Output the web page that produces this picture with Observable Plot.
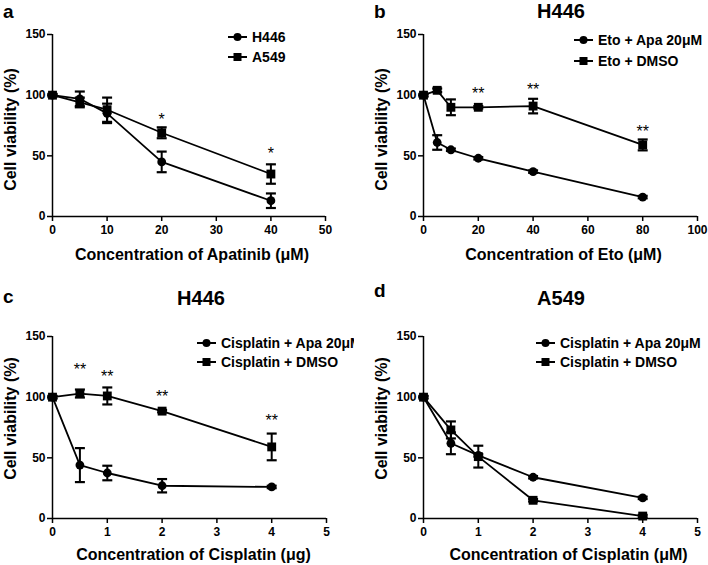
<!DOCTYPE html>
<html>
<head>
<meta charset="utf-8">
<script src="https://cdn.jsdelivr.net/npm/d3@7"></script>
<script src="https://cdn.jsdelivr.net/npm/@observablehq/plot@0.6"></script>
<style>
body{margin:0;background:#fff;font-family:"Liberation Sans",Arial,sans-serif;}
#fig{position:relative;width:708px;height:565px;overflow:hidden;}
.panel{position:absolute;}
.txt{position:absolute;font-weight:bold;line-height:0.8;white-space:nowrap;color:#000;}
.leg{position:absolute;display:flex;align-items:center;height:20px;font-size:14px;font-weight:bold;white-space:nowrap;}
.leg svg{margin-right:5px;}
</style>
</head>
<body>
<div id="fig"></div>
<script>
// panel a : apatinib alone
const xA = [0, 5, 10, 20, 40]
const aH446 = [100, 97, 85, 45, 13]
const aH446Err = [1, 6, 8, 8.5, 6]
const aA549 = [100, 94, 88, 69, 35]
const aA549Err = [1, 4, 10, 4.5, 8]
const aStarX = [20, 40]
const aStarY = [83, 54.5]
const aStarTxt = ['*', '*']

// panel b : H446, etoposide
const xB = [0, 5, 10, 20, 40, 80]
const bApa = [100, 61, 55, 48, 37, 16]
const bApaErr = [1, 6, 1, 1, 1, 1]
const bDmso = [100, 104, 90, 90, 91, 59]
const bDmsoErr = [1, 1.5, 6.5, 1, 6, 4.5]
const bStarX = [20, 40, 80]
const bStarY = [104.6, 107.3, 73.2]
const bStarTxt = ['**', '**', '**']

// panel c : H446, cisplatin
const xC = [0, 0.5, 1, 2, 4]
const cApa = [100, 44, 37.5, 27, 26]
const cApaErr = [1, 14, 6, 5.5, 1]
const cDmso = [100, 103, 101, 88.5, 59]
const cDmsoErr = [1, 3.3, 7, 1, 11]
const cStarX = [0.5, 1, 2, 4]
const cStarY = [126, 120, 103.4, 83.6]
const cStarTxt = ['**', '**', '**', '**']

// panel d : A549, cisplatin
const xD = [0, 0.5, 1, 2, 4]
const dApa = [100, 62, 52, 34, 17]
const dApaErr = [1, 9, 1, 1, 1]
const dDmso = [100, 73, 51, 15, 2]
const dDmsoErr = [1, 7, 9, 1, 1]

const yTicks = [0, 50, 100, 150]
const fig = d3.select('#fig')

// horizontal cap for error bars
const cap = {draw(ctx) { ctx.moveTo(-5, 0); ctx.lineTo(5, 0) }}

const rows = (xs, ys, err) => xs.map((x, i) => ({x, y: ys[i], lo: ys[i] - err[i], hi: ys[i] + err[i]}))

function seriesMarks(data, symbol) {
  return [
    Plot.line(data, {x: 'x', y: 'y', stroke: 'black', strokeWidth: 1.8}),
    Plot.ruleX(data, {x: 'x', y1: 'lo', y2: 'hi', stroke: 'black', strokeWidth: 2}),
    Plot.dot(data, {x: 'x', y: 'lo', symbol: cap, fill: 'none', stroke: 'black', strokeWidth: 2.2}),
    Plot.dot(data, {x: 'x', y: 'hi', symbol: cap, fill: 'none', stroke: 'black', strokeWidth: 2.2}),
    Plot.dot(data, {x: 'x', y: 'y', symbol, fill: 'black', stroke: 'none', r: symbol == 'square' ? 5 : 4.4}),
  ]
}

function panel(p) {
  const stars = p.starX.map((x, i) => ({x, y: p.starY[i], t: p.starTxt[i]}))
  let chart = Plot.plot({
    width: 354, height: p.height,
    marginLeft: p.ml, marginRight: p.mr, marginTop: p.mt, marginBottom: p.mb,
    x: {domain: p.xDomain, ticks: p.xTicks, label: null},
    y: {domain: [0, 150], ticks: yTicks, label: null},
    style: {fontFamily: '"Liberation Sans", Arial, sans-serif', fontSize: '12px', fontWeight: 'bold', color: 'black', background: 'white', overflow: 'visible'},
    marks: [
      Plot.axisX({ticks: p.xTicks, tickFormat: d => String(d), tickSize: 5, tickPadding: 4, strokeWidth: 1.5, fontSize: 12, fontWeight: 'bold', label: null}),
      Plot.axisY({ticks: yTicks, tickFormat: d => String(d), tickSize: 5, tickPadding: 2, strokeWidth: 1.5, fontSize: 12, fontWeight: 'bold', label: null}),
      Plot.ruleX([p.xDomain[0]], {stroke: 'black', strokeWidth: 1.5}),
      Plot.ruleY([0], {stroke: 'black', strokeWidth: 1.5}),
      ...seriesMarks(rows(p.xs, p.s1, p.s1Err), 'circle'),
      ...seriesMarks(rows(p.xs, p.s2, p.s2Err), 'square'),
      Plot.text(stars, {x: 'x', y: 'y', text: 't', fill: 'black', fontSize: 16, fontWeight: 'normal', dy: 4}),
      Plot.text([p.xTitle], {text: d => d, frameAnchor: 'bottom', textAnchor: 'middle', lineAnchor: 'middle', dy: p.xTitleDy, dx: p.xTitleDx, fontSize: 16, fontWeight: 'bold'}),
      Plot.text(['Cell viability (%)'], {text: d => d, frameAnchor: 'left', textAnchor: 'middle', lineAnchor: 'middle', rotate: -90, dx: -42, dy: p.yTitleDy, fontSize: 16, fontWeight: 'bold'}),
    ],
  })
  fig.append('div').attr('class', 'panel').style('left', p.left + 'px').style('top', p.top + 'px').append(() => chart)

  // legend
  p.legend.forEach((lab, i) => {
    const row = fig.append('div').attr('class', 'leg')
      .style('left', p.legX + 'px').style('top', (p.legY[i] - 10) + 'px')
    const s = row.append('svg').attr('width', 19).attr('height', 12)
    s.append('line').attr('x1', 0).attr('x2', 19).attr('y1', 6).attr('y2', 6).attr('stroke', 'black').attr('stroke-width', 2)
    if (i == 0) s.append('circle').attr('cx', 9.5).attr('cy', 6).attr('r', 4)
    else s.append('rect').attr('x', 5.5).attr('y', 2).attr('width', 8).attr('height', 8)
    row.append('span').text(lab)
  })
}

function label(str, x, baseline, size, center) {
  const d = fig.append('div').attr('class', 'txt').text(str)
    .style('font-size', size + 'px').style('left', x + 'px').style('top', (baseline - 0.7465 * size) + 'px')
  if (center) d.style('transform', 'translateX(-50%)')
}

panel({left: 0, top: 0, height: 280, ml: 52, mr: 29, mt: 34, mb: 64,
  xDomain: [0, 50], xTicks: [0, 10, 20, 30, 40, 50], xs: xA,
  s1: aH446, s1Err: aH446Err, s2: aA549, s2Err: aA549Err,
  starX: aStarX, starY: aStarY, starTxt: aStarTxt,
  xTitle: 'Concentration of Apatinib (\u03bcM)', xTitleDy: 38, xTitleDx: 3, yTitleDy: 4,
  legend: ['H446', 'A549'], legX: 228, legY: [37, 57]})

panel({left: 354, top: 0, height: 280, ml: 69, mr: 11, mt: 34, mb: 64,
  xDomain: [0, 100], xTicks: [0, 20, 40, 60, 80, 100], xs: xB,
  s1: bApa, s1Err: bApaErr, s2: bDmso, s2Err: bDmsoErr,
  starX: bStarX, starY: bStarY, starTxt: bStarTxt,
  xTitle: 'Concentration of Eto (\u03bcM)', xTitleDy: 38, xTitleDx: 3, yTitleDy: 4,
  legend: ['Eto + Apa 20\u03bcM', 'Eto + DMSO'], legX: 574, legY: [40, 61]})

panel({left: 0, top: 280, height: 285, ml: 52, mr: 28, mt: 56, mb: 47,
  xDomain: [0, 5], xTicks: [0, 1, 2, 3, 4, 5], xs: xC,
  s1: cApa, s1Err: cApaErr, s2: cDmso, s2Err: cDmsoErr,
  starX: cStarX, starY: cStarY, starTxt: cStarTxt,
  xTitle: 'Concentration of Cisplatin (\u03bcg)', xTitleDy: 36, xTitleDx: 4, yTitleDy: -9,
  legend: ['Cisplatin + Apa 20\u03bcM', 'Cisplatin + DMSO'], legX: 197, legY: [343, 362]})

panel({left: 354, top: 280, height: 285, ml: 69, mr: 11, mt: 56, mb: 47,
  xDomain: [0, 5], xTicks: [0, 1, 2, 3, 4, 5], xs: xD,
  s1: dApa, s1Err: dApaErr, s2: dDmso, s2Err: dDmsoErr,
  starX: [], starY: [], starTxt: [],
  xTitle: 'Concentration of Cisplatin (\u03bcM)', xTitleDy: 36, xTitleDx: 8, yTitleDy: -9,
  legend: ['Cisplatin + Apa 20\u03bcM', 'Cisplatin + DMSO'], legX: 536, legY: [343, 362]})

// panel letters and titles
label('a', 3, 18, 19)
label('b', 374, 18, 19)
label('c', 3, 303, 19)
label('d', 374, 297, 19)
label('H446', 561, 18, 20, true)
label('H446', 201, 305, 20, true)
label('A549', 561, 305, 20, true)
</script>
</body>
</html>
